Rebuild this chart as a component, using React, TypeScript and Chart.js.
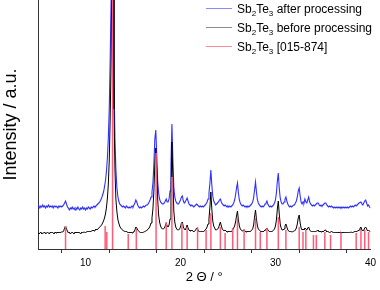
import React, { useEffect, useRef } from "react";
import { Chart, registerables } from "chart.js";

Chart.register(...registerables);

// 2θ sampling grid of the measured patterns
const TWO_THETA_START = 5.0;
const TWO_THETA_STEP = 0.1;

// Sb2Te3 after processing (offset trace), one value per 0.1° from 5.0° to 40.0°
const AFTER_PROCESSING = [
  42, 43, 41, 43, 42, 44, 42, 43, 41, 43, // 5
  42, 44, 42, 43, 42, 43, 41, 43, 42, 43, // 6
  42, 41, 43, 42, 43, 42, 43, 44, 46, 48, // 7
  45, 42, 41, 39, 41, 40, 42, 40, 41, 39, // 8
  41, 40, 42, 40, 39, 41, 40, 42, 40, 41, // 9
  39, 41, 40, 42, 41, 40, 42, 41, 42, 43, // 10
  42, 43, 44, 45, 46, 47, 49, 51, 54, 57, // 11
  62, 68, 77, 90, 110, 140, 190, 250, 330, 270, // 12
  170, 110, 80, 62, 53, 48, 45, 44, 43, 42, // 13
  43, 42, 41, 43, 42, 41, 42, 41, 42, 43, // 14
  42, 44, 46, 49, 47, 44, 42, 41, 42, 41, // 15
  42, 43, 42, 43, 44, 44, 45, 47, 49, 52, // 16
  57, 66, 85, 110, 119, 95, 68, 56, 50, 47, // 17
  46, 45, 45, 46, 48, 50, 47, 47, 50, 58, // 18
  85, 125, 90, 62, 52, 48, 46, 45, 45, 47, // 19
  49, 52, 53, 48, 46, 47, 49, 51, 48, 45, // 20
  44, 43, 44, 43, 42, 43, 44, 45, 44, 43, // 21
  42, 43, 42, 43, 42, 43, 44, 45, 47, 50, // 22
  56, 66, 79, 64, 53, 48, 46, 44, 45, 46, // 23
  47, 49, 50, 47, 45, 44, 43, 44, 43, 42, // 24
  43, 42, 43, 42, 43, 44, 46, 49, 54, 61, // 25
  66, 56, 49, 46, 44, 43, 44, 43, 42, 43, // 26
  42, 43, 42, 43, 44, 45, 47, 51, 59, 67, // 27
  57, 49, 46, 44, 43, 42, 43, 42, 43, 45, // 28
  46, 48, 45, 43, 42, 43, 42, 43, 44, 46, // 29
  49, 56, 68, 76, 61, 51, 47, 45, 45, 47, // 30
  50, 52, 48, 45, 43, 42, 43, 42, 43, 44, // 31
  44, 46, 48, 52, 58, 61, 53, 47, 45, 47, // 32
  46, 50, 47, 46, 49, 52, 47, 45, 44, 43, // 33
  44, 43, 44, 45, 46, 46, 44, 43, 44, 43, // 34
  44, 45, 46, 46, 44, 43, 42, 43, 42, 43, // 35
  42, 41, 42, 41, 42, 41, 42, 41, 42, 41, // 36
  42, 41, 42, 41, 42, 41, 42, 41, 42, 43, // 37
  42, 43, 42, 43, 44, 43, 44, 45, 46, 46, // 38
  47, 45, 44, 46, 48, 49, 46, 43, 44, 42, // 39
  41, // 40
];

// Sb2Te3 before processing, same grid
const BEFORE_PROCESSING = [
  16, 15, 16, 17, 15, 16, 16, 17, 15, 16, // 5
  17, 16, 15, 17, 16, 17, 16, 15, 17, 16, // 6
  17, 16, 17, 16, 17, 17, 17, 18, 21, 23, // 7
  20, 18, 16, 17, 15, 16, 17, 16, 15, 17, // 8
  16, 17, 16, 17, 16, 15, 17, 16, 17, 17, // 9
  16, 17, 18, 17, 18, 17, 18, 18, 19, 18, // 10
  19, 20, 19, 20, 21, 22, 23, 24, 26, 28, // 11
  31, 35, 41, 50, 64, 88, 130, 190, 310, 250, // 12
  140, 80, 50, 38, 30, 26, 23, 21, 20, 19, // 13
  18, 18, 17, 18, 17, 16, 17, 16, 17, 16, // 14
  17, 17, 19, 22, 21, 19, 18, 17, 16, 17, // 15
  16, 17, 17, 18, 18, 19, 20, 21, 23, 26, // 16
  31, 40, 58, 85, 101, 80, 50, 34, 27, 23, // 17
  21, 20, 20, 21, 23, 26, 23, 22, 24, 30, // 18
  55, 107, 70, 38, 27, 22, 20, 19, 19, 20, // 19
  22, 26, 27, 22, 20, 19, 21, 24, 21, 19, // 20
  18, 18, 19, 18, 17, 18, 19, 21, 20, 18, // 21
  17, 18, 17, 18, 17, 18, 19, 20, 22, 25, // 22
  30, 42, 57, 40, 28, 23, 21, 19, 19, 20, // 23
  21, 24, 27, 23, 20, 19, 18, 19, 18, 17, // 24
  18, 17, 18, 17, 18, 19, 21, 23, 27, 33, // 25
  38, 29, 23, 20, 19, 18, 18, 19, 18, 17, // 26
  18, 17, 18, 17, 18, 19, 20, 24, 32, 39, // 27
  30, 23, 20, 19, 18, 17, 18, 17, 18, 19, // 28
  20, 21, 19, 18, 17, 18, 17, 18, 19, 20, // 29
  23, 29, 40, 48, 35, 25, 21, 19, 19, 20, // 30
  23, 25, 22, 19, 18, 17, 18, 17, 17, 18, // 31
  18, 19, 21, 25, 31, 34, 26, 21, 19, 20, // 32
  19, 21, 20, 19, 21, 22, 19, 18, 17, 18, // 33
  17, 18, 17, 18, 18, 19, 17, 18, 17, 18, // 34
  17, 18, 19, 19, 17, 18, 17, 16, 17, 18, // 35
  17, 16, 17, 16, 17, 16, 17, 16, 17, 17, // 36
  16, 17, 16, 17, 16, 17, 16, 17, 16, 17, // 37
  17, 16, 17, 17, 18, 17, 18, 18, 19, 21, // 38
  22, 19, 18, 19, 21, 22, 20, 18, 19, 18, // 39
  17, // 40
];

// Reference pattern Sb2Te3 [015-874]: stick positions (2θ) and intensities
const REF_POSITIONS = [
  7.9, 12.07, 12.24, 12.85, 14.5, 15.35, 17.43, 18.5, 19.1, 20.15,
  20.7, 21.8, 22.7, 23.2, 24.2, 24.7, 25.5, 26.0, 26.7, 27.9,
  28.4, 29.1, 30.3, 31.1, 32.5, 32.9, 33.2, 34.0, 34.3, 35.2,
  35.8, 36.9, 38.5, 39.0, 39.4, 39.8,
];
const REF_INTENSITIES = [
  23, 23, 17, 300, 15, 20, 96, 27, 72, 26,
  22, 22, 19, 36, 22, 16, 21, 31, 20, 31,
  17, 21, 32, 19, 22, 17, 19, 14, 14, 17,
  14, 16, 16, 19, 19, 17,
];

const FORMULA = "Sb2Te3";
const LABEL_SUFFIXES = ["after processing", "before processing", "[015-874]"];
const UNICODE_FORMULA = "Sb₂Te₃";
const SERIES_COLORS = ["#3030ff", "#000000", "#ff5c78"];
const LEGEND_COLORS = ["#8a8aff", "#8c8c8c", "#ff8a9a"];

const X_MIN = 5;
const X_MAX = 40;
const X_TICK_STEP = 5;
const X_LABEL_EVERY = 10;
const Y_MIN = 0;
const Y_MAX = 249;

const X_TITLE = "2 Θ / °";
const Y_TITLE = "Intensity / a.u.";

const FONT = "'Liberation Sans', Arial, Helvetica, sans-serif";

function toPoints(values: number[]) {
  return values.map((v, i) => ({
    x: Math.round((TWO_THETA_START + i * TWO_THETA_STEP) * 10) / 10,
    y: v,
  }));
}

function Formula({ text }: { text: string }) {
  const parts = text.split(/(\d+)/).filter((p) => p.length > 0);
  return (
    <>
      {parts.map((p, i) =>
        /^\d+$/.test(p) ? (
          <span
            key={i}
            style={{ fontSize: 8, position: "relative", top: 3, lineHeight: 0 }}
          >
            {p}
          </span>
        ) : (
          <span key={i}>{p}</span>
        )
      )}
    </>
  );
}

export default function App() {
  const canvasRef = useRef<HTMLCanvasElement | null>(null);

  useEffect(() => {
    document.body.style.margin = "0";
    const canvas = canvasRef.current;
    if (!canvas) return;
    Chart.defaults.font.family = FONT;

    const chart = new Chart(canvas, {
      type: "line",
      data: {
        datasets: [
          {
            type: "bar",
            label: `${UNICODE_FORMULA} ${LABEL_SUFFIXES[2]}`,
            data: REF_POSITIONS.map((p, i) => ({ x: p, y: REF_INTENSITIES[i] })),
            backgroundColor: SERIES_COLORS[2],
            borderWidth: 0,
            barThickness: 1.5,
            inflateAmount: 0,
            order: 0,
          } as any,
          {
            type: "line",
            label: `${UNICODE_FORMULA} ${LABEL_SUFFIXES[0]}`,
            data: toPoints(AFTER_PROCESSING),
            borderColor: SERIES_COLORS[0],
            borderWidth: 1.1,
            pointRadius: 0,
            tension: 0,
            fill: false,
            order: 2,
          },
          {
            type: "line",
            label: `${UNICODE_FORMULA} ${LABEL_SUFFIXES[1]}`,
            data: toPoints(BEFORE_PROCESSING),
            borderColor: SERIES_COLORS[1],
            borderWidth: 1,
            pointRadius: 0,
            tension: 0,
            fill: false,
            order: 1,
          },
        ],
      },
      options: {
        animation: false,
        responsive: false,
        devicePixelRatio: 1,
        layout: { padding: { left: 0, right: 7, top: 0, bottom: 0 } },
        plugins: {
          legend: { display: false },
          tooltip: { enabled: false },
        },
        scales: {
          x: {
            type: "linear",
            min: X_MIN,
            max: X_MAX,
            offset: false,
            afterFit: (scale: any) => {
              scale.height = 41;
            },
            border: { display: true, color: "#333333", width: 1 },
            grid: {
              display: true,
              drawOnChartArea: false,
              drawTicks: true,
              tickLength: 4,
              color: "#333333",
            },
            ticks: {
              stepSize: X_TICK_STEP,
              autoSkip: false,
              maxRotation: 0,
              padding: 4,
              color: "#000000",
              font: { size: 10, family: FONT },
              callback: (v: any) =>
                Number(v) % X_LABEL_EVERY === 0 ? String(v) : "",
            },
            title: {
              display: true,
              text: X_TITLE,
              color: "#000000",
              font: { size: 13, family: FONT },
              padding: { top: 0, bottom: 5 },
            },
          },
          y: {
            type: "linear",
            min: Y_MIN,
            max: Y_MAX,
            afterFit: (scale: any) => {
              scale.width = 38;
            },
            border: { display: true, color: "#333333", width: 1 },
            grid: { display: false },
            ticks: { display: false },
            title: {
              display: true,
              text: Y_TITLE,
              color: "#000000",
              font: { size: 18, family: FONT },
              padding: { top: 0, bottom: 0 },
            },
          },
        },
      },
    });
    return () => chart.destroy();
  }, []);

  return (
    <div style={{ position: "relative", width: 380, height: 290 }}>
      <canvas ref={canvasRef} width={380} height={290} style={{ display: "block" }} />
      <div
        style={{
          position: "absolute",
          left: 206,
          top: -1,
          fontFamily: FONT,
          fontSize: 12,
          color: "#000",
        }}
      >
        {LABEL_SUFFIXES.map((suffix, i) => (
          <div
            key={i}
            style={{ height: 19, display: "flex", alignItems: "center", whiteSpace: "nowrap" }}
          >
            <span
              style={{
                display: "inline-block",
                width: 26,
                height: 1,
                background: LEGEND_COLORS[i],
                marginRight: 5,
              }}
            />
            <span>
              <Formula text={FORMULA} /> {suffix}
            </span>
          </div>
        ))}
      </div>
    </div>
  );
}
